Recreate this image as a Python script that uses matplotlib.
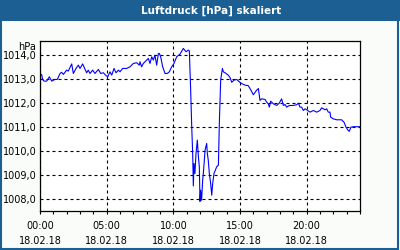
import matplotlib
matplotlib.use("Agg")
import matplotlib.pyplot as plt
from matplotlib.patches import Rectangle
from matplotlib.ticker import MultipleLocator, FixedLocator

# Zeit in Stunden (18.02.18) und Luftdruck in hPa
hours = [
    0.0, 0.12, 0.2, 0.3, 0.5, 0.7, 0.88, 1.12, 1.3, 1.5, 1.62, 1.75, 2.0, 2.12,
    2.38, 2.5, 2.7, 2.88, 3.0, 3.2, 3.38, 3.5, 3.62, 3.75, 3.95, 4.12, 4.38,
    4.55, 4.75, 4.92, 5.08, 5.25, 5.38, 5.55, 5.7, 5.88, 6.0, 6.2, 6.5, 6.75,
    7.0, 7.25, 7.45, 7.5, 7.62, 7.75, 8.0, 8.12, 8.25, 8.38, 8.5, 8.62, 8.75,
    8.88, 8.95, 9.05, 9.2, 9.38, 9.55, 9.7, 9.88, 10.05, 10.25, 10.5, 10.75,
    10.95, 11.12, 11.2, 11.3, 11.38, 11.45, 11.5, 11.55, 11.62, 11.7, 11.8,
    11.88, 11.95, 12.0, 12.05, 12.12, 12.2, 12.25, 12.38, 12.5, 12.55, 12.62,
    12.7, 12.8, 12.88, 12.95, 13.05, 13.15, 13.25, 13.38, 13.45, 13.55, 13.68,
    13.75, 13.88, 14.12, 14.25, 14.38, 14.55, 14.75, 14.95, 15.12, 15.38,
    15.62, 15.75, 16.0, 16.25, 16.38, 16.5, 16.62, 16.88, 17.0, 17.12, 17.2,
    17.3, 17.5, 17.75, 17.95, 18.12, 18.25, 18.38, 18.5, 18.7, 19.0, 19.25,
    19.38, 19.5, 19.62, 19.75, 19.88, 20.0, 20.25, 20.5, 20.75, 21.0, 21.12,
    21.38, 21.5, 21.62, 21.75, 21.8, 22.0, 22.25, 22.62, 22.8, 22.95, 23.12,
    23.2, 23.32, 23.5, 24.0,
]
pressure = [
    1013.13, 1013.20, 1012.99, 1012.92, 1012.92, 1013.10, 1012.92, 1012.99,
    1012.99, 1013.24, 1013.29, 1013.20, 1013.38, 1013.34, 1013.64, 1013.24,
    1013.45, 1013.59, 1013.45, 1013.64, 1013.41, 1013.27, 1013.38, 1013.24,
    1013.38, 1013.24, 1013.41, 1013.24, 1013.27, 1013.17, 1013.10, 1013.31,
    1013.17, 1013.45, 1013.27, 1013.38, 1013.31, 1013.45, 1013.45, 1013.52,
    1013.66, 1013.69, 1013.59, 1013.73, 1013.52, 1013.66, 1013.80, 1013.87,
    1013.66, 1013.94, 1013.80, 1014.01, 1013.59, 1014.08, 1014.08, 1013.94,
    1013.52, 1013.24, 1013.24, 1013.31, 1013.52, 1013.66, 1013.94, 1014.05,
    1014.29, 1014.15, 1014.22, 1014.19, 1012.54, 1011.00, 1009.89, 1008.53,
    1009.47, 1009.05, 1009.89, 1010.45, 1009.75, 1009.33, 1007.88, 1008.35,
    1007.93, 1008.77, 1009.05, 1010.03, 1010.31, 1009.89, 1009.61, 1009.05,
    1008.63, 1008.14, 1008.63, 1009.05, 1009.19, 1009.33, 1009.40, 1011.15,
    1012.96, 1013.45, 1013.31, 1013.27, 1013.17, 1013.07, 1012.87, 1012.96,
    1012.99, 1012.89, 1012.82, 1012.75, 1012.73, 1012.61, 1012.35, 1012.54,
    1012.61, 1012.11, 1012.18, 1012.15, 1012.04, 1011.97, 1011.83, 1012.08,
    1011.97, 1011.90, 1012.00, 1012.18, 1011.90, 1011.94, 1011.83, 1011.90,
    1011.90, 1011.93, 1012.00, 1011.83, 1011.83, 1011.69, 1011.76, 1011.72,
    1011.62, 1011.69, 1011.62, 1011.69, 1011.80, 1011.72, 1011.76, 1011.62,
    1011.62, 1011.41, 1011.34, 1011.30, 1011.30, 1011.20, 1010.99, 1010.85,
    1010.82, 1010.99, 1011.01, 1011.01,
]

y_ticks = [1008, 1009, 1010, 1011, 1012, 1013, 1014]
y_labels = ["1008,0", "1009,0", "1010,0", "1011,0", "1012,0", "1013,0", "1014,0"]
x_ticks = [0, 5, 10, 15, 20]
x_labels = ["00:00\n18.02.18", "05:00\n18.02.18", "10:00\n18.02.18",
            "15:00\n18.02.18", "20:00\n18.02.18"]

BLUE = "#1b5f93"
BG = "#fafcfa"
FS = 7


def main():
    fig = plt.figure(figsize=(4, 2.5), dpi=100, facecolor=BG)

    # Titelleiste und Rahmen
    fig.patches.append(Rectangle((0, 1 - 21 / 250), 1, 21 / 250,
                                 transform=fig.transFigure, facecolor=BLUE,
                                 edgecolor="none", zorder=0))
    fig.patches.append(Rectangle((1 / 400, 1 / 250), 397 / 400, 248 / 250,
                                 transform=fig.transFigure, facecolor="none",
                                 edgecolor=BLUE, linewidth=1.5, zorder=1))
    fig.text(211 / 400, 1 - 10.5 / 250, "Luftdruck [hPa] skaliert",
             color="white", fontsize=7.5, fontweight="bold",
             ha="center", va="center")

    ax = fig.add_axes([40 / 400, 1 - 211 / 250, 320 / 400, 170 / 250])
    ax.set_facecolor("white")
    ax.plot(hours, pressure, color="#0000ff", linewidth=0.8)

    ax.set_xlim(0, 24)
    ax.set_ylim(1007.48, 1014.6)

    ax.xaxis.set_major_locator(FixedLocator(x_ticks))
    ax.set_xticklabels(x_labels, fontsize=FS, linespacing=1.6)
    ax.xaxis.set_minor_locator(MultipleLocator(1))
    ax.tick_params(axis="x", which="both", direction="out", length=2.2,
                   width=0.8, pad=5, colors="black")

    ax.set_yticks(y_ticks)
    ax.set_yticklabels(y_labels, fontsize=FS)
    ax.tick_params(axis="y", length=0, pad=2.5)

    ax.grid(True, which="major", color="black", linewidth=0.8,
            linestyle=(0, (2.7, 2.7)))
    for s in ax.spines.values():
        s.set_linewidth(0.9)
        s.set_color("black")

    ax.text(-0.012, 0.995, "hPa", transform=ax.transAxes, fontsize=FS,
            ha="right", va="top")

    fig.savefig("out.png", dpi=100, facecolor=BG)


if __name__ == "__main__":
    main()
